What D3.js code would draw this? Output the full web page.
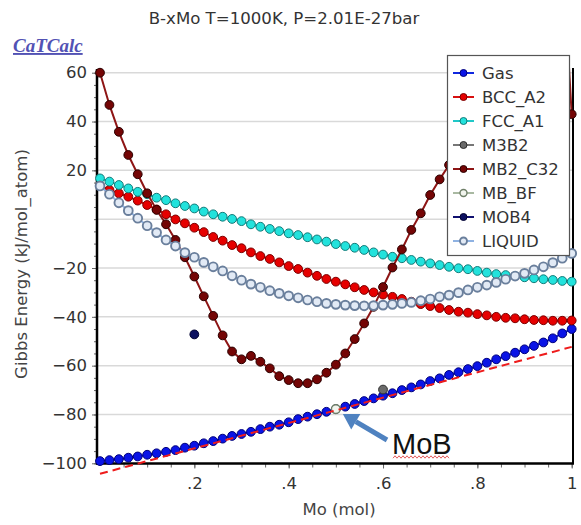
<!DOCTYPE html>
<html>
<head>
<meta charset="utf-8">
<script src="https://cdn.jsdelivr.net/npm/d3@7/dist/d3.min.js"></script>
<style>
  body { margin: 0; background: #fff; }
  svg text { font-family: "DejaVu Sans", Verdana, sans-serif; }
</style>
</head>
<body>
<svg id="chart" width="581" height="525"></svg>
<script>
// Mole fraction of Mo at each calculated composition
const molMo = [0, 0.02, 0.04, 0.06, 0.08, 0.1, 0.12, 0.14, 0.16, 0.18,
  0.2, 0.22, 0.24, 0.26, 0.28, 0.3, 0.32, 0.34, 0.36, 0.38,
  0.4, 0.42, 0.44, 0.46, 0.48, 0.5, 0.52, 0.54, 0.56, 0.58,
  0.6, 0.62, 0.64, 0.66, 0.68, 0.7, 0.72, 0.74, 0.76, 0.78,
  0.8, 0.82, 0.84, 0.86, 0.88, 0.9, 0.92, 0.94, 0.96, 0.98, 1];

// Gibbs energy of each phase, kJ/mol_atom
const gasG = [-99.1, -98.7, -98.3, -97.7, -97.2, -96.5, -95.9, -95.3, -94.6, -93.6,
  -92.8, -91.8, -90.9, -89.9, -88.8, -88.0, -87.1, -86.0, -85.0, -84.2,
  -83.2, -81.9, -80.9, -79.9, -78.9, -77.8, -76.8, -75.7, -74.5, -73.4,
  -72.3, -71.3, -70.0, -68.9, -67.7, -66.3, -65.2, -63.8, -62.7, -61.4,
  -60.2, -58.8, -57.4, -56.1, -54.7, -53.3, -51.9, -50.5, -48.8, -46.8, -45.0];
const bccG = [13.8, 12.0, 10.6, 9.2, 7.6, 5.8, 4.0, 2.0, -0.1, -1.7,
  -3.5, -5.3, -7.3, -8.8, -10.6, -11.9, -13.6, -15.1, -16.3, -17.7,
  -19.2, -20.4, -21.9, -23.2, -24.5, -25.6, -26.7, -27.9, -29.0, -30.0,
  -30.9, -31.8, -32.7, -33.8, -34.8, -35.6, -36.4, -37.2, -37.9, -38.3,
  -38.9, -39.4, -40.0, -40.4, -40.6, -41.0, -41.3, -41.4, -41.6, -41.6, -41.5];
const fccG = [16.7, 15.4, 14.0, 12.6, 11.2, 10.2, 8.8, 7.8, 6.5, 5.4,
  4.4, 3.1, 2.0, 1.0, 0.1, -0.8, -2.1, -3.1, -4.0, -4.9,
  -5.8, -6.5, -7.4, -8.3, -9.2, -10.2, -11.0, -11.7, -12.6, -13.6,
  -14.5, -15.4, -16.0, -16.7, -17.4, -18.1, -18.8, -19.5, -20.1, -20.5,
  -21.2, -21.9, -22.5, -22.9, -23.3, -23.8, -24.2, -24.6, -24.9, -25.3, -25.6];
const mb2C32G = [60.0, 46.8, 35.8, 26.3, 18.4, 10.6, 3.8, -2.1, -8.5, -15.6,
  -23.5, -31.6, -39.6, -47.6, -54.2, -57.4, -56.0, -58.4, -61.1, -64.3,
  -65.9, -67.2, -67.2, -65.6, -62.9, -59.6, -55.0, -49.1, -42.7, -35.9,
  -27.8, -19.8, -12.4, -4.4, 2.4, 9.9, 16.3, 22.2, 28.5, 35.0,
  41.5, 48.0, 55.0, 62.0, 69.0, 77.0, 85.0, 93.0, 101.0, 110.0, 43.0];
const liquidG = [13.6, 10.2, 6.7, 3.5, 0.4, -2.7, -5.5, -8.5, -11.0, -13.7,
  -15.6, -17.7, -19.5, -21.2, -23.2, -25.0, -26.6, -27.9, -29.3, -30.4,
  -31.4, -32.2, -33.1, -33.8, -34.5, -34.9, -35.2, -35.4, -35.5, -35.4,
  -35.2, -34.9, -34.5, -34.1, -33.4, -32.7, -31.8, -31.1, -30.1, -29.0,
  -27.9, -27.0, -25.9, -24.6, -23.3, -22.2, -20.8, -19.5, -17.8, -16.0, -14.0];

// Stoichiometric compounds (single compositions)
const m3b2X = [0.6],  m3b2G = [-69.8];
const mbBfX = [0.5],  mbBfG = [-77.8];
const mob4X = [0.2],  mob4G = [-47.2];

// Common tangent drawn through MoB
const tangentX = [0, 1], tangentG = [-104.3, -52.3];

// Axis ticks
const yTickValues = [60, 40, 20, -20, -40, -60, -80, -100];
const yGridValues = [60, 40, 20, 0, -20, -40, -60, -80];
const xTickValues = [0.2, 0.4, 0.6, 0.8, 1];
const xTickLabels = [".2", ".4", ".6", ".8", "1"];

const phaseNames = ["Gas", "BCC_A2", "FCC_A1", "M3B2", "MB2_C32", "MB_BF", "MOB4", "LIQUID"];

const svg = d3.select("#chart");
const x = d3.scaleLinear().domain([0, 1]).range([100, 571.7]);
const y = d3.scaleLinear().domain([-100, 60]).range([463.3, 72.7]);

const frameLeft = 97, frameRight = 573, frameBottom = 463.5, frameTop = 69;

// Title and program tag
svg.append("text").attr("x", 284).attr("y", 24).attr("text-anchor", "middle")
  .attr("font-size", 16.6).attr("fill", "#333").text("B-xMo T=1000K, P=2.01E-27bar");
svg.append("text").attr("x", 13).attr("y", 52)
  .style("font-family", "'Liberation Serif', 'Times New Roman', serif")
  .attr("font-size", 19).attr("font-style", "italic").attr("font-weight", "bold")
  .attr("text-decoration", "underline").attr("fill", "#5252b4").text("CaTCalc");

// Horizontal grid
svg.append("g").selectAll("line").data(yGridValues).join("line")
  .attr("x1", frameLeft).attr("x2", frameRight)
  .attr("y1", d => y(d)).attr("y2", d => y(d))
  .attr("stroke", "#d9d9d9").attr("stroke-width", 1.5);

// Y axis: major and minor ticks
const yMinor = d3.range(-100, 60.1, 5);
const yMinorAxis = svg.append("g").attr("transform", `translate(${frameLeft},0)`)
  .call(d3.axisLeft(y).tickValues(yMinor).tickSize(3).tickFormat(""));
const yAxis = svg.append("g").attr("transform", `translate(${frameLeft},0)`)
  .call(d3.axisLeft(y).tickValues(yTickValues).tickSize(5).tickPadding(5));
yAxis.selectAll("text").attr("font-size", 16.5).attr("fill", "#333")
  .style("font-family", "'DejaVu Sans', Verdana, sans-serif");

// X axis
const xMinor = d3.range(0.05, 1.001, 0.05);
const xMinorAxis = svg.append("g").attr("transform", `translate(0,${frameBottom})`)
  .call(d3.axisBottom(x).tickValues(xMinor).tickSize(4).tickFormat(""));
const xAxis = svg.append("g").attr("transform", `translate(0,${frameBottom})`)
  .call(d3.axisBottom(x).tickValues(xTickValues).tickSize(5).tickPadding(9)
    .tickFormat((d, i) => xTickLabels[i]));
xAxis.selectAll("text").attr("font-size", 16.5).attr("fill", "#333")
  .style("font-family", "'DejaVu Sans', Verdana, sans-serif");
[yMinorAxis, yAxis, xMinorAxis, xAxis].forEach(g => {
  g.select(".domain").remove();
  g.selectAll(".tick line").attr("stroke", "#666");
});

// Plot frame
svg.append("line").attr("x1", frameLeft).attr("x2", frameLeft).attr("y1", frameTop).attr("y2", frameBottom + 1)
  .attr("stroke", "#000").attr("stroke-width", 2.5);
svg.append("line").attr("x1", frameLeft - 1).attr("x2", frameRight + 1).attr("y1", frameBottom).attr("y2", frameBottom)
  .attr("stroke", "#000").attr("stroke-width", 2.5);
svg.append("line").attr("x1", frameRight).attr("x2", frameRight).attr("y1", frameTop - 1).attr("y2", frameBottom)
  .attr("stroke", "#000").attr("stroke-width", 2);

// Axis titles
svg.append("text").attr("transform", "translate(27,264) rotate(-90)").attr("text-anchor", "middle")
  .attr("font-size", 16.5).attr("fill", "#444").text("Gibbs Energy (kJ/mol_atom)");
svg.append("text").attr("x", 339).attr("y", 515).attr("text-anchor", "middle")
  .attr("font-size", 16.5).attr("fill", "#444").text("Mo (mol)");

// Series
svg.append("defs").append("clipPath").attr("id", "plotClip")
  .append("rect").attr("x", 88).attr("y", 64).attr("width", 492).attr("height", 420);
const plot = svg.append("g").attr("clip-path", "url(#plotClip)");

const styles = {
  "Gas":     { line: "#1028e0", fill: "#0a14e6", stroke: "#00007a", sw: 1, lw: 2 },
  "BCC_A2":  { line: "#d81010", fill: "#e60000", stroke: "#7a0000", sw: 1, lw: 2 },
  "FCC_A1":  { line: "#20c8c8", fill: "#22e2dc", stroke: "#137a78", sw: 1, lw: 2 },
  "M3B2":    { line: "#777777", fill: "#6a6a6a", stroke: "#2c2c2c", sw: 1, lw: 2 },
  "MB2_C32": { line: "#8e1515", fill: "#740505", stroke: "#2a0000", sw: 1, lw: 2 },
  "MB_BF":   { line: "#a9b9a2", fill: "#f2f5ee", stroke: "#6f7f68", sw: 1.4, lw: 2 },
  "MOB4":    { line: "#101070", fill: "#0c1060", stroke: "#000030", sw: 1, lw: 2 },
  "LIQUID":  { line: "#8fb2e2", fill: "#e2eaf5", stroke: "#6a7f9c", sw: 1.9, lw: 2 }
};

const seriesData = [
  { name: "Gas",     xs: molMo, ys: gasG },
  { name: "BCC_A2",  xs: molMo, ys: bccG },
  { name: "FCC_A1",  xs: molMo, ys: fccG },
  { name: "M3B2",    xs: m3b2X, ys: m3b2G },
  { name: "MB2_C32", xs: molMo, ys: mb2C32G },
  { name: "MB_BF",   xs: mbBfX, ys: mbBfG },
  { name: "MOB4",    xs: mob4X, ys: mob4G },
  { name: "LIQUID",  xs: molMo, ys: liquidG }
];

const lineGen = d3.line().x(d => x(d[0])).y(d => y(d[1]));
seriesData.forEach(s => {
  const st = styles[s.name];
  const pts = s.xs.map((v, i) => [v, s.ys[i]]);
  const g = plot.append("g");
  if (pts.length > 1) {
    g.append("path").datum(pts).attr("d", lineGen)
      .attr("fill", "none").attr("stroke", st.line).attr("stroke-width", st.lw);
  }
  g.selectAll("circle").data(pts).join("circle")
    .attr("cx", d => x(d[0])).attr("cy", d => y(d[1])).attr("r", 4.4)
    .attr("fill", st.fill).attr("stroke", st.stroke).attr("stroke-width", st.sw);
});

// Common tangent (dashed)
svg.append("path").datum(tangentX.map((v, i) => [v, tangentG[i]]))
  .attr("d", lineGen).attr("fill", "none").attr("stroke", "#ee1c1c")
  .attr("stroke-width", 2).attr("stroke-dasharray", "8,5");

// MoB annotation
const tip = [x(mbBfX[0]) + 7, y(mbBfG[0]) + 5];
const tail = [387, 440];
const ang = Math.atan2(tip[1] - tail[1], tip[0] - tail[0]);
const headLen = 15, headHalf = 9;
const base = [tip[0] - headLen * Math.cos(ang), tip[1] - headLen * Math.sin(ang)];
svg.append("line").attr("x1", tail[0]).attr("y1", tail[1]).attr("x2", base[0]).attr("y2", base[1])
  .attr("stroke", "#4f82c0").attr("stroke-width", 5);
svg.append("path").attr("d", d3.line()([
  tip,
  [base[0] + headHalf * Math.sin(ang), base[1] - headHalf * Math.cos(ang)],
  [base[0] - headHalf * Math.sin(ang), base[1] + headHalf * Math.cos(ang)]
]) + "Z").attr("fill", "#4f82c0");
svg.append("text").attr("x", 392).attr("y", 454)
  .style("font-family", "'Liberation Sans', Arial, sans-serif")
  .attr("font-size", 29).attr("fill", "#111").text("MoB");
const squiggle = d3.range(393, 451, 2).map((v, i) => [v, 457 + (i % 2 ? -1.2 : 1.2)]);
svg.append("path").attr("d", d3.line()(squiggle)).attr("fill", "none")
  .attr("stroke", "#e04848").attr("stroke-width", 0.9);

// Legend
const legend = svg.append("g");
legend.append("rect").attr("x", 447.5).attr("y", 55.5).attr("width", 122).attr("height", 200)
  .attr("fill", "#fff").attr("stroke", "#555").attr("stroke-width", 1.2);
phaseNames.forEach((name, i) => {
  const st = styles[name];
  const cy = 73 + i * 24;
  legend.append("line").attr("x1", 453).attr("x2", 474).attr("y1", cy).attr("y2", cy)
    .attr("stroke", st.line).attr("stroke-width", 2);
  legend.append("circle").attr("cx", 463.5).attr("cy", cy).attr("r", 3.5)
    .attr("fill", st.fill).attr("stroke", st.stroke).attr("stroke-width", st.sw);
  legend.append("text").attr("x", 482).attr("y", cy + 6).attr("font-size", 16.5)
    .attr("fill", "#333").text(name);
});
</script>
</body>
</html>
